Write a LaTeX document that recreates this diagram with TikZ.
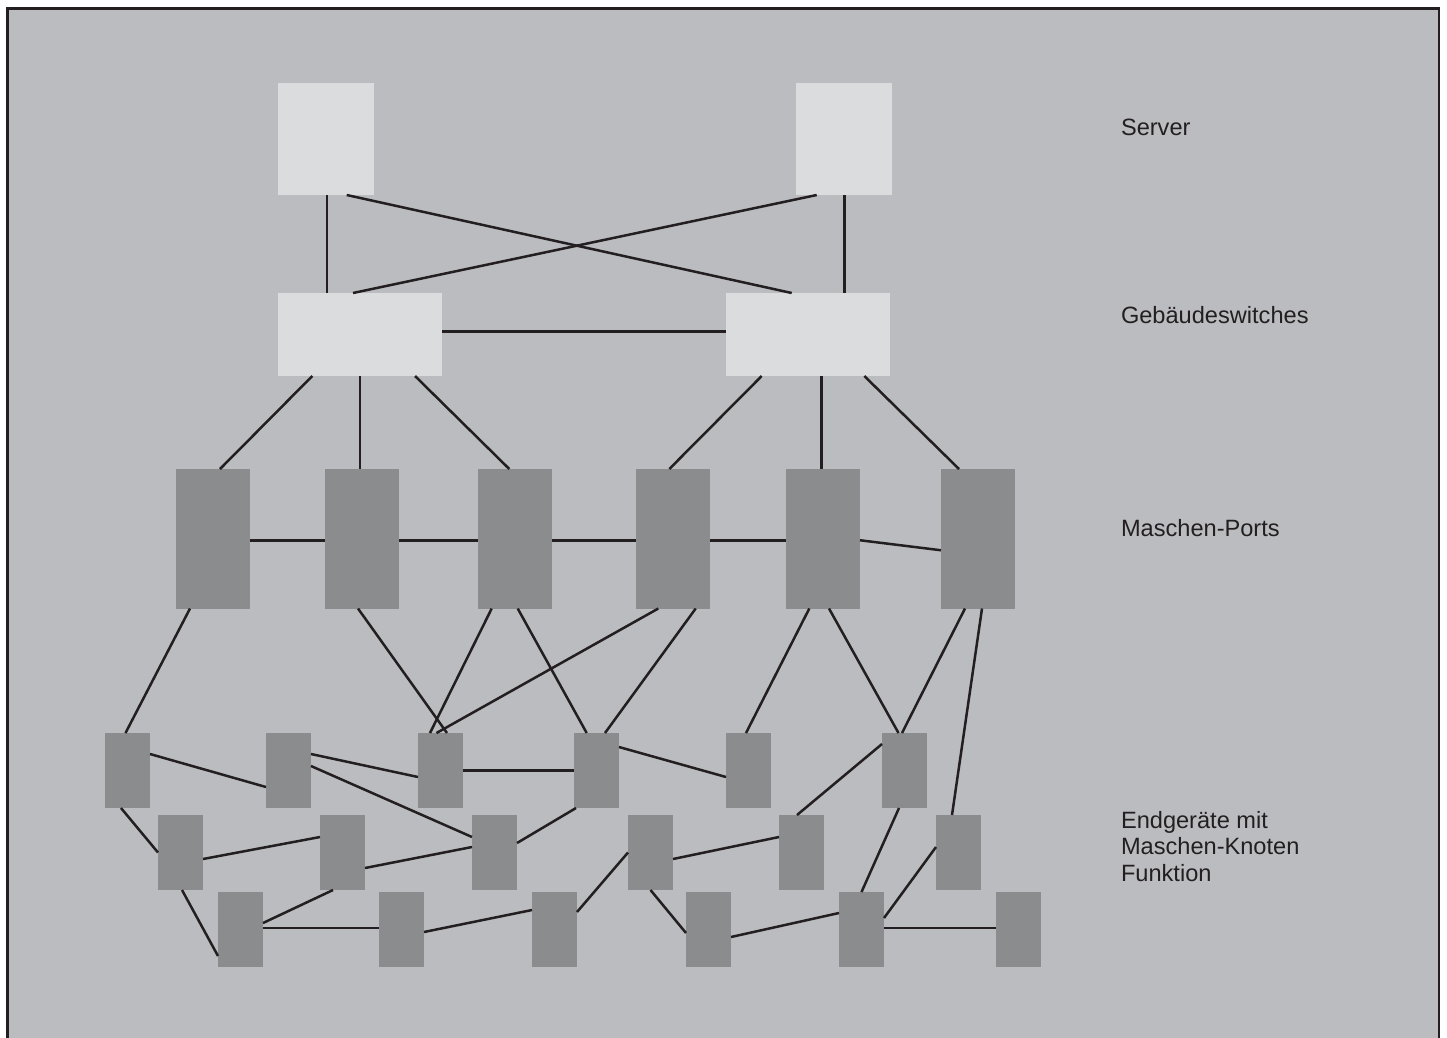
\documentclass[tikz,border=0pt]{standalone}
\usepackage{fontspec}
\setmainfont{Liberation Sans}
\definecolor{bggrey}{HTML}{BBBCC0}
\definecolor{boxlight}{HTML}{DBDCDE}
\definecolor{boxdark}{HTML}{8B8C8E}
\definecolor{ink}{HTML}{231F20}
\begin{document}
\begin{tikzpicture}[x=1pt,y=-1pt,line width=2.5pt,color=ink,
  every node/.style={inner sep=0pt,outer sep=0pt},
  srv/.style={fill=boxlight,minimum width=96pt,minimum height=112pt},
  sw/.style={fill=boxlight,minimum width=164pt,minimum height=83pt},
  port/.style={fill=boxdark,minimum width=74pt,minimum height=139.5pt},
  dev/.style={fill=boxdark,minimum width=45pt,minimum height=75pt},
  tier/.style={anchor=base west,align=left,font=\fontsize{23.6}{26.3}\selectfont}]
\useasboundingbox (0,0) rectangle (1447,1037);
\fill[white] (0,0) rectangle (1447,1037);
\fill[bggrey] (7.5,8.5) rectangle (1439,1060);
\draw[line width=2.7pt] (7.5,8.5) rectangle (1439,1060);
% server und gebaeudeswitches
\node[srv] (S1) at (326,139) {};
\node[srv] (S2) at (844,139) {};
\node[sw] (G1) at (360,334.5) {};
\node[sw] (G2) at (808,334.5) {};
% maschen-ports
\node[port] (M1) at (213,538.75) {};
\node[port] (M2) at (362,538.75) {};
\node[port] (M3) at (515,538.75) {};
\node[port] (M4) at (673,538.75) {};
\node[port] (M5) at (823,538.75) {};
\node[port] (M6) at (978,538.75) {};
% endgeraete
\node[dev] (A1) at (127.5,770.5) {};
\node[dev] (A2) at (288.5,770.5) {};
\node[dev] (A3) at (440.5,770.5) {};
\node[dev] (A4) at (596.5,770.5) {};
\node[dev] (A5) at (748.5,770.5) {};
\node[dev] (A6) at (904.5,770.5) {};
\node[dev] (B1) at (180.5,852.5) {};
\node[dev] (B2) at (342.5,852.5) {};
\node[dev] (B3) at (494.5,852.5) {};
\node[dev] (B4) at (650.5,852.5) {};
\node[dev] (B5) at (801.5,852.5) {};
\node[dev] (B6) at (958.5,852.5) {};
\node[dev] (C1) at (240.5,929.5) {};
\node[dev] (C2) at (401.5,929.5) {};
\node[dev] (C3) at (554.5,929.5) {};
\node[dev] (C4) at (708.5,929.5) {};
\node[dev] (C5) at (861.5,929.5) {};
\node[dev] (C6) at (1018.5,929.5) {};
% links oben
\draw ([xshift=1pt]S1.south) -- ([xshift=-33pt]G1.north);
\draw ([xshift=20.7pt]S1.south) -- ([xshift=-16.3pt]G2.north);
\draw ([xshift=-27.3pt]S2.south) -- ([xshift=-7pt]G1.north);
\draw ([xshift=0.3pt]S2.south) -- ([xshift=36.3pt]G2.north);
\draw ([yshift=3pt]G1.east) -- ([yshift=3pt]G2.west);
\draw ([xshift=-47.7pt]G1.south) -- ([xshift=7pt]M1.north);
\draw (G1.south) -- ([xshift=-2pt]M2.north);
\draw ([xshift=55pt]G1.south) -- ([xshift=-5.7pt]M3.north);
\draw ([xshift=-46.3pt]G2.south) -- ([xshift=-3.7pt]M4.north);
\draw ([xshift=13.7pt]G2.south) -- ([xshift=-1.3pt]M5.north);
\draw ([xshift=56.3pt]G2.south) -- ([xshift=-19pt]M6.north);
\draw ([yshift=-1.5pt]M1.east) -- ([yshift=-1.5pt]M2.west);
\draw ([yshift=-1.5pt]M2.east) -- ([yshift=-1.5pt]M3.west);
\draw ([yshift=-1.5pt]M3.east) -- ([yshift=-1.5pt]M4.west);
\draw ([yshift=-1.5pt]M4.east) -- ([yshift=-1.5pt]M5.west);
\draw ([yshift=-1.5pt]M5.east) -- ([yshift=-11.5pt]M6.west);
% ports zu endgeraeten
\draw ([xshift=-23pt]M1.south) -- ([xshift=-2pt]A1.north);
\draw ([xshift=-4pt]M2.south) -- ([xshift=6.5pt]A3.north);
\draw ([xshift=-23.3pt]M3.south) -- ([xshift=-10.5pt]A3.north);
\draw ([xshift=2.7pt]M3.south) -- ([xshift=-9.8pt]A4.north);
\draw ([xshift=-14.7pt]M4.south) -- ([xshift=-4pt]A3.north);
\draw ([xshift=22.7pt]M4.south) -- ([xshift=8.5pt]A4.north);
\draw ([xshift=-13.7pt]M5.south) -- ([xshift=-2.5pt]A5.north);
\draw ([xshift=6pt]M5.south) -- ([xshift=-6pt]A6.north);
\draw ([xshift=-13pt]M6.south) -- ([xshift=-2.5pt]A6.north);
\draw ([xshift=4pt]M6.south) -- ([xshift=-6.5pt]B6.north);
% maschen zwischen endgeraeten
\draw ([yshift=16.5pt]A1.east) -- ([yshift=-16.5pt]A2.west);
\draw ([yshift=16.5pt]A2.east) -- ([yshift=-6.5pt]A3.west);
\draw ([yshift=4.5pt]A2.east) -- ([yshift=15.5pt]B3.west);
\draw (A3.east) -- (A4.west);
\draw ([yshift=23.5pt]A4.east) -- ([yshift=-6.5pt]A5.west);
\draw ([yshift=26.5pt]A6.west) -- ([xshift=-4.5pt]B5.north);
\draw ([xshift=-5.5pt]A6.south) -- (C5.north);
\draw ([xshift=-6.5pt]A1.south) -- (B1.west);
\draw ([yshift=-6.5pt]B1.east) -- ([yshift=15.5pt]B2.west);
\draw ([yshift=-15.5pt]B2.east) -- ([yshift=5.5pt]B3.west);
\draw ([yshift=9.5pt]B3.east) -- ([xshift=-20.5pt]A4.south);
\draw ([xshift=1.5pt]B1.south) -- ([yshift=-26.5pt]C1.west);
\draw ([yshift=6.5pt]C1.east) -- ([xshift=-9.5pt]B2.south);
\draw ([yshift=1.5pt]C1.east) -- ([yshift=1.5pt]C2.west);
\draw ([yshift=-2.5pt]C2.east) -- ([yshift=19.5pt]C3.west);
\draw ([yshift=17.5pt]C3.east) -- (B4.west);
\draw ([yshift=-6.5pt]B4.east) -- ([yshift=15.5pt]B5.west);
\draw (B4.south) -- ([yshift=-3.5pt]C4.west);
\draw ([yshift=-7.5pt]C4.east) -- ([yshift=16.5pt]C5.west);
\draw ([yshift=11.5pt]C5.east) -- ([yshift=5.5pt]B6.west);
\draw ([yshift=1.5pt]C5.east) -- ([yshift=1.5pt]C6.west);
% beschriftung
\node[tier] (tServer) at (1121,135.7) {Server};
\node[tier] (tSwitch) at (1121,323) {Gebäudeswitches};
\node[tier] (tPorts) at (1121,536) {Maschen-Ports};
\node[tier] (tDevices) at (1121,881) {Endgeräte mit\\Maschen-Knoten\\Funktion};
\end{tikzpicture}
\end{document}
